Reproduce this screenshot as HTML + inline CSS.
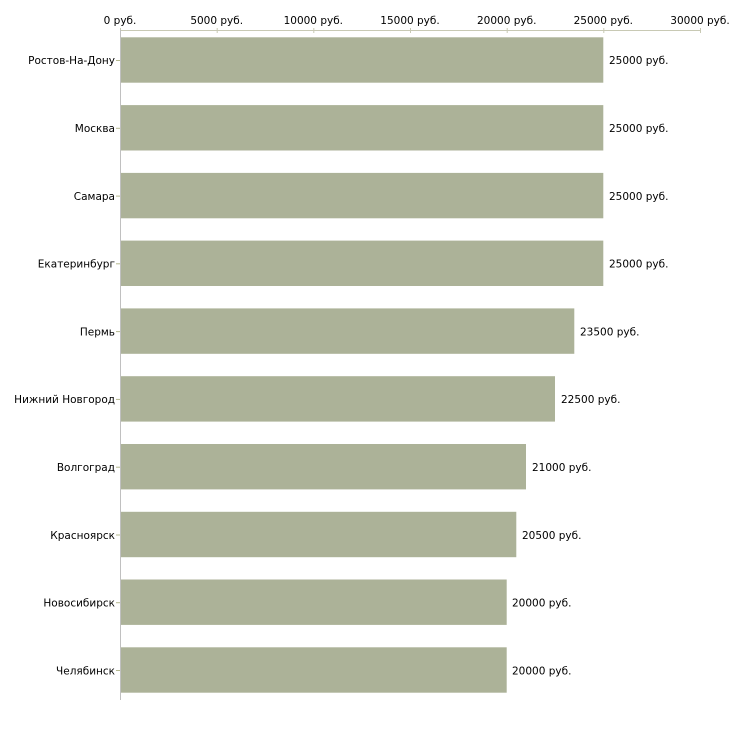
<!DOCTYPE html>
<html><head><meta charset="utf-8"><style>
html,body{margin:0;padding:0;background:#fff;}
svg{display:block;}
text{font-family:"DejaVu Sans","Liberation Sans",sans-serif;font-size:10.5px;fill:#000;}
</style></head><body>
<svg width="730" height="730" viewBox="0 0 730 730" xmlns="http://www.w3.org/2000/svg">
<!-- top axis -->
<line x1="120" y1="30.5" x2="700" y2="30.5" stroke="#c8c9b4" stroke-width="1"/>
<g stroke="#c8c9b4" stroke-width="1">
<line x1="120.5" y1="28" x2="120.5" y2="33"/>
<line x1="217.2" y1="28" x2="217.2" y2="33"/>
<line x1="313.8" y1="28" x2="313.8" y2="33"/>
<line x1="410.5" y1="28" x2="410.5" y2="33"/>
<line x1="507.2" y1="28" x2="507.2" y2="33"/>
<line x1="603.8" y1="28" x2="603.8" y2="33"/>
<line x1="700.5" y1="28" x2="700.5" y2="33"/>
</g>
<g text-anchor="middle">
<text x="120" y="24">0 руб.</text>
<text x="216.7" y="24">5000 руб.</text>
<text x="313.3" y="24">10000 руб.</text>
<text x="410" y="24">15000 руб.</text>
<text x="506.7" y="24">20000 руб.</text>
<text x="603.3" y="24">25000 руб.</text>
<text x="700" y="24">30000 руб.</text>
</g>
<!-- left axis -->
<line x1="120.5" y1="30" x2="120.5" y2="700" stroke="#c0c0c0" stroke-width="1"/>
<g fill="#acb298">
<rect x="121" y="37.3" width="482.3" height="45.4"/>
<rect x="121" y="105.1" width="482.3" height="45.4"/>
<rect x="121" y="172.9" width="482.3" height="45.4"/>
<rect x="121" y="240.6" width="482.3" height="45.4"/>
<rect x="121" y="308.4" width="453.3" height="45.4"/>
<rect x="121" y="376.2" width="434" height="45.4"/>
<rect x="121" y="444" width="405" height="45.4"/>
<rect x="121" y="511.8" width="395.3" height="45.4"/>
<rect x="121" y="579.5" width="385.7" height="45.4"/>
<rect x="121" y="647.3" width="385.7" height="45.4"/>
</g>
<g stroke="#b5b88f" stroke-width="1">
<line x1="116" y1="60.5" x2="120" y2="60.5"/>
<line x1="116" y1="128.3" x2="120" y2="128.3"/>
<line x1="116" y1="196.1" x2="120" y2="196.1"/>
<line x1="116" y1="263.8" x2="120" y2="263.8"/>
<line x1="116" y1="331.6" x2="120" y2="331.6"/>
<line x1="116" y1="399.4" x2="120" y2="399.4"/>
<line x1="116" y1="467.2" x2="120" y2="467.2"/>
<line x1="116" y1="535" x2="120" y2="535"/>
<line x1="116" y1="602.7" x2="120" y2="602.7"/>
<line x1="116" y1="670.5" x2="120" y2="670.5"/>
</g>
<g text-anchor="end">
<text x="115" y="64">Ростов-На-Дону</text>
<text x="115" y="132">Москва</text>
<text x="115" y="200">Самара</text>
<text x="115" y="267.5">Екатеринбург</text>
<text x="115" y="335.5">Пермь</text>
<text x="115" y="403">Нижний Новгород</text>
<text x="115" y="471">Волгоград</text>
<text x="115" y="539">Красноярск</text>
<text x="115" y="606.5">Новосибирск</text>
<text x="115" y="674.5">Челябинск</text>
</g>
<g>
<text x="609" y="64">25000 руб.</text>
<text x="609" y="132">25000 руб.</text>
<text x="609" y="200">25000 руб.</text>
<text x="609" y="267.5">25000 руб.</text>
<text x="580" y="335.5">23500 руб.</text>
<text x="561" y="403">22500 руб.</text>
<text x="532" y="471">21000 руб.</text>
<text x="522" y="539">20500 руб.</text>
<text x="512" y="606.5">20000 руб.</text>
<text x="512" y="674.5">20000 руб.</text>
</g>
</svg>
</body></html>
